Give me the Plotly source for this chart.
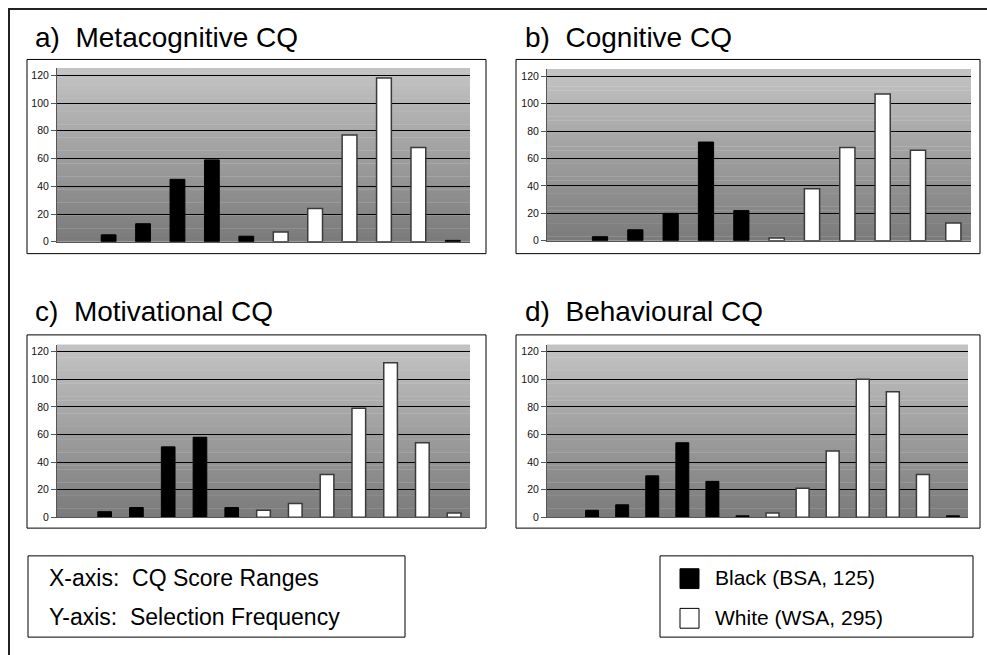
import plotly.graph_objects as go

# ---------------- data ----------------
titles = ["a)  Metacognitive CQ", "b)  Cognitive CQ", "c)  Motivational CQ", "d)  Behavioural CQ"]
y_ticks = [0, 20, 40, 60, 80, 100, 120]

# score-range slots per panel (first slot empty)
a_black = [None, 5, 13, 45, 59, 4, None, None, None, None, None, 1]
a_white = [None, None, None, None, None, None, 7, 24, 77, 118, 68, None]

b_black = [None, 3, 8, 20, 72, 22, None, None, None, None, None, None]
b_white = [None, None, None, None, None, None, 2, 38, 68, 107, 66, 13]

c_black = [None, 4, 7, 51, 58, 7, None, None, None, None, None, None, None]
c_white = [None, None, None, None, None, None, 5, 10, 31, 79, 112, 54, 3]

d_black = [None, 5, 9, 30, 54, 26, 1, None, None, None, None, None, None, 1]
d_white = [None, None, None, None, None, None, None, 3, 21, 48, 100, 91, 31, None]

legend_black = "Black (BSA, 125)"
legend_white = "White (WSA, 295)"
axis_note_x = "X-axis:  CQ Score Ranges"
axis_note_y = "Y-axis:  Selection Frequency"

panels = [(a_black, a_white), (b_black, b_white), (c_black, c_white), (d_black, d_white)]

# ---------------- layout geometry (pixels) ----------------
W, H = 987, 655
def px(x):
    return x / W
def py(y):
    return 1 - y / H

# plot areas: (left, right, top, bottom)
plot_px = [(57, 470, 69, 244), (547, 971, 70, 243), (57, 470, 348, 522), (547, 968, 348, 522)]
frames_px = [(27, 486, 60, 256), (516, 980, 60, 256), (27, 486, 338, 533), (516, 980, 338, 533)]
title_pos = [(33, 38), (523, 38), (33, 314), (523, 314)]

fig = go.Figure()
layout = dict(
    width=W, height=H, autosize=False,
    margin=dict(l=0, r=0, t=0, b=0),
    paper_bgcolor="white", plot_bgcolor="rgba(0,0,0,0)",
    barmode="overlay", showlegend=False,
    font=dict(family="Arial, Liberation Sans, sans-serif", color="black"),
)
shapes = []
annotations = []

top_col = (196, 196, 196)
bot_col = (122, 122, 122)
nb = 40

for i, (blk, wht) in enumerate(panels):
    n = len(blk)
    xs = list(range(n))
    suffix = "" if i == 0 else str(i + 1)
    xa, ya = "x" + suffix, "y" + suffix
    fig.add_trace(go.Bar(x=xs, y=blk, width=0.43, xaxis=xa, yaxis=ya,
                         marker=dict(color="black", line=dict(color="black", width=1)),
                         name=legend_black))
    fig.add_trace(go.Bar(x=xs, y=wht, width=0.43, xaxis=xa, yaxis=ya,
                         marker=dict(color="white", line=dict(color="#3a3a3a", width=1.5)),
                         name=legend_white))
    l, r, t, b = plot_px[i]
    layout["xaxis" + suffix] = dict(
        domain=[px(l), px(r)], anchor=ya, range=[-0.5, n - 0.5],
        showticklabels=False, ticks="", showgrid=False, zeroline=False,
        showline=True, linecolor="#555555", linewidth=1, fixedrange=True)
    layout["yaxis" + suffix] = dict(
        domain=[py(b), py(t)], anchor=xa, range=[0, 125],
        tickvals=y_ticks, ticks="outside", ticklen=5, tickcolor="#555555",
        tickfont=dict(size=10.5, color="#111111", family="Arial, Liberation Sans, sans-serif"),
        showgrid=True, gridcolor="black", gridwidth=1, zeroline=False,
        showline=True, linecolor="#555555", linewidth=1, fixedrange=True)
    # gradient background bands
    for k in range(nb):
        f = (k + 0.5) / nb
        c = tuple(int(round(bot_col[j] + (top_col[j] - bot_col[j]) * f)) for j in range(3))
        shapes.append(dict(type="rect", xref=xa + " domain", yref=ya + " domain",
                           x0=0, x1=1, y0=k / nb, y1=(k + 1) / nb + 0.002,
                           fillcolor="rgb(%d,%d,%d)" % c, line=dict(width=0), layer="below"))
    # panel frame
    fl, fr, ft, fb = frames_px[i]
    shapes.append(dict(type="rect", xref="paper", yref="paper",
                       x0=px(fl), x1=px(fr), y0=py(fb), y1=py(ft),
                       line=dict(color="black", width=1), fillcolor="rgba(0,0,0,0)", layer="below"))
    tx, ty = title_pos[i]
    annotations.append(dict(text=titles[i], xref="paper", yref="paper", x=px(tx), y=py(ty),
                            xanchor="left", yanchor="middle", showarrow=False,
                            font=dict(size=28, color="black")))

# outer frame
shapes.append(dict(type="rect", xref="paper", yref="paper", x0=px(9), x1=px(1000), y0=py(670), y1=py(9),
                   line=dict(color="#222222", width=2), fillcolor="rgba(0,0,0,0)", layer="below"))

# axis note box
shapes.append(dict(type="rect", xref="paper", yref="paper", x0=px(28), x1=px(405), y0=py(643), y1=py(561),
                   line=dict(color="black", width=1), fillcolor="white", layer="below"))
annotations.append(dict(text=axis_note_x, xref="paper", yref="paper", x=px(47), y=py(583),
                        xanchor="left", yanchor="middle", showarrow=False, font=dict(size=23)))
annotations.append(dict(text=axis_note_y, xref="paper", yref="paper", x=px(47), y=py(623),
                        xanchor="left", yanchor="middle", showarrow=False, font=dict(size=23)))

# legend box
shapes.append(dict(type="rect", xref="paper", yref="paper", x0=px(660), x1=px(973), y0=py(643), y1=py(561),
                   line=dict(color="black", width=1), fillcolor="white", layer="below"))
shapes.append(dict(type="rect", xref="paper", yref="paper", x0=px(680), x1=px(699), y0=py(594), y1=py(574),
                   line=dict(color="black", width=1), fillcolor="black"))
shapes.append(dict(type="rect", xref="paper", yref="paper", x0=px(680), x1=px(699), y0=py(634), y1=py(614),
                   line=dict(color="black", width=1), fillcolor="white"))
annotations.append(dict(text=legend_black, xref="paper", yref="paper", x=px(713), y=py(583),
                        xanchor="left", yanchor="middle", showarrow=False, font=dict(size=21)))
annotations.append(dict(text=legend_white, xref="paper", yref="paper", x=px(713), y=py(623),
                        xanchor="left", yanchor="middle", showarrow=False, font=dict(size=21)))

layout["shapes"] = shapes
layout["annotations"] = annotations
fig.update_layout(**layout)
fig.write_html("out.html", config={"displayModeBar": False},
               post_script="document.body.style.margin='0';document.body.style.overflow='hidden';")
